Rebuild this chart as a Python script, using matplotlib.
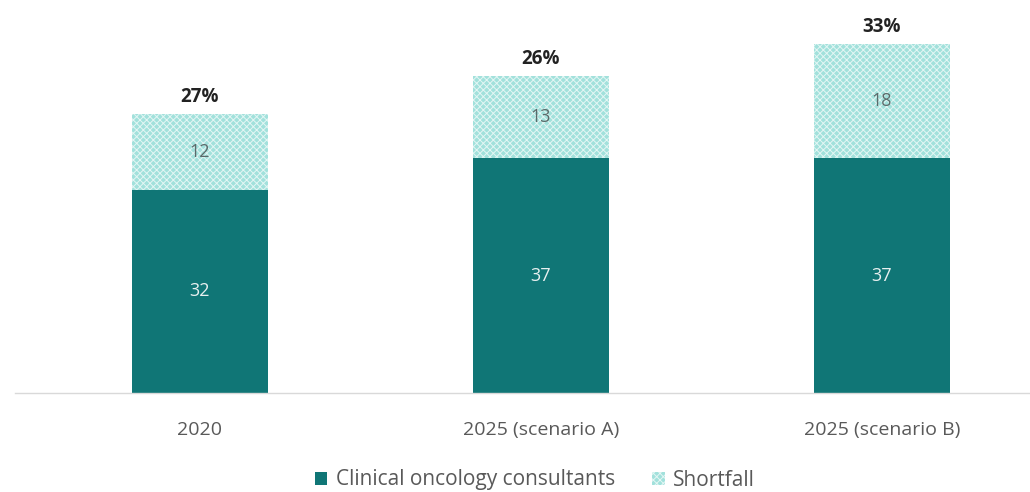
import matplotlib
matplotlib.use("Agg")
import matplotlib.pyplot as plt
from matplotlib.patches import Patch

plt.rcParams["font.family"] = ["Open Sans", "DejaVu Sans"]
plt.rcParams["hatch.linewidth"] = 0.7

# data
categories = ["2020", "2025 (scenario A)", "2025 (scenario B)"]
consultants = [32, 37, 37]
shortfall = [12, 13, 18]
shortfall_pct = ["27%", "26%", "33%"]

dark = "#107676"
light = "#a2e1dc"

fig = plt.figure(figsize=(10.30, 4.92), dpi=100)
ax = fig.add_axes([15 / 1030, 1 - 393 / 492, 1015 / 1030, 381 / 492])

x = list(range(len(categories)))
w = 0.396
ax.bar(x, consultants, width=w, color=dark, linewidth=0)
ax.bar(x, shortfall, bottom=consultants, width=w, color=light,
       edgecolor="#e4f6f4", hatch="xxxxx", linewidth=0)

for i in x:
    ax.text(i, consultants[i] / 2, str(consultants[i]), ha="center",
            va="center", color="#e8f0f0", fontsize=13)
    ax.text(i, consultants[i] + shortfall[i] / 2, str(shortfall[i]),
            ha="center", va="center", color="#5a6a6a", fontsize=13)
    ax.text(i, consultants[i] + shortfall[i] + 1.0, shortfall_pct[i],
            ha="center", va="bottom", color="#222222", fontsize=13.5,
            fontweight="bold")

ax.set_xlim(-185 / 341, 830 / 341)
ax.set_ylim(0, 60)
ax.set_xticks(x)
ax.set_xticklabels(categories, fontsize=14, color="#595959")
ax.tick_params(axis="x", length=0, pad=20)
ax.set_yticks([])
for s in ["top", "left", "right"]:
    ax.spines[s].set_visible(False)
ax.spines["bottom"].set_color("#d9d9d9")
ax.spines["bottom"].set_linewidth(1)

handles = [Patch(facecolor=dark, label="Clinical oncology consultants"),
           Patch(facecolor=light, edgecolor="#e4f6f4", hatch="xxxxx",
                 linewidth=0, label="Shortfall")]
fig.legend(handles=handles, loc="center", bbox_to_anchor=(535 / 1030, 1 - 480 / 492),
           ncol=2, frameon=False, fontsize=15, labelcolor="#595959",
           handlelength=0.6, handleheight=0.6, handletextpad=0.4, columnspacing=1.8)

fig.savefig("out.png", dpi=100)
